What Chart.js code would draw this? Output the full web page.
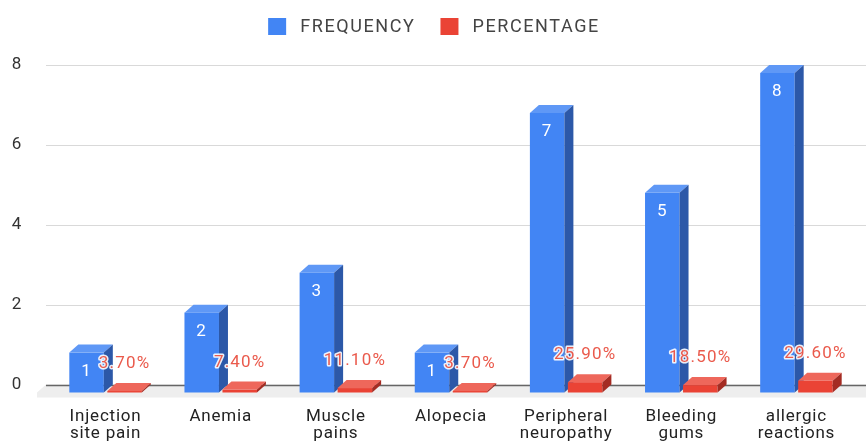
<!DOCTYPE html>
<html>
<head>
<meta charset="utf-8">
<script src="https://cdn.jsdelivr.net/npm/chart.js@4.4.1/dist/chart.umd.min.js"></script>
<style>
  html, body { margin: 0; padding: 0; background: #fff; }
  #wrap { width: 868px; height: 446px; }
</style>
</head>
<body>
<div id="wrap"><canvas id="sideEffects"></canvas></div>
<script>
// side effects: count of patients and share of total
const categories = [
  ['Injection', 'site pain'],
  ['Anemia'],
  ['Muscle', 'pains'],
  ['Alopecia'],
  ['Peripheral', 'neuropathy'],
  ['Bleeding', 'gums'],
  ['allergic', 'reactions']
];
const frequency = [1, 2, 3, 1, 7, 5, 8];
const percentage = [0.037, 0.074, 0.111, 0.037, 0.259, 0.185, 0.296];
const yTicks = [0, 2, 4, 6, 8];

const FONT = 'Roboto, "Liberation Sans", Arial, sans-serif';
const DX = 9, DY = 8; // depth of the 3d boxes

const colors = [
  { front: '#4285f4', top: '#5f98f6', side: '#2c58a8' },
  { front: '#ea4335', top: '#ee675b', side: '#a42c23' }
];

function box(ctx, l, r, t, b, c) {
  ctx.fillStyle = c.front;
  ctx.fillRect(l, t, r - l, b - t);
  ctx.fillStyle = c.top;
  ctx.beginPath();
  ctx.moveTo(l, t); ctx.lineTo(l + DX, t - DY); ctx.lineTo(r + DX, t - DY); ctx.lineTo(r, t);
  ctx.closePath(); ctx.fill();
  ctx.fillStyle = c.side;
  ctx.beginPath();
  ctx.moveTo(r, t); ctx.lineTo(r + DX, t - DY); ctx.lineTo(r + DX, b - DY); ctx.lineTo(r, b);
  ctx.closePath(); ctx.fill();
}

const bars3d = {
  id: 'bars3d',
  beforeDraw(chart) {
    // slightly wider text, applies to the axis labels too
    chart.ctx.letterSpacing = '0.8px';
  },
  beforeDatasetsDraw(chart) {
    const { ctx, chartArea: a, scales: { y } } = chart;
    const zero = y.getPixelForValue(0);
    const right = chart.width - 2;
    ctx.save();

    // floor
    ctx.fillStyle = '#eeeeee';
    ctx.beginPath();
    ctx.moveTo(a.left - 2, zero);
    ctx.lineTo(right, zero);
    ctx.lineTo(right, zero + DY + 5);
    ctx.lineTo(a.left - 11, zero + DY + 5);
    ctx.lineTo(a.left - 11, zero + DY);
    ctx.closePath();
    ctx.fill();

    // grid
    yTicks.forEach(v => {
      const py = Math.round(y.getPixelForValue(v)) + 0.5;
      ctx.strokeStyle = v === 0 ? '#666666' : '#d9d9d9';
      ctx.lineWidth = v === 0 ? 1.5 : 1;
      ctx.beginPath();
      ctx.moveTo(a.left - 2, py);
      ctx.lineTo(right, py);
      ctx.stroke();
    });

    // boxes, category by category so the red one sits over the blue side
    const metas = [chart.getDatasetMeta(0), chart.getDatasetMeta(1)];
    for (let i = 0; i < categories.length; i++) {
      metas.forEach((m, d) => {
        const el = m.data[i];
        const l = el.x - el.width / 2, r = el.x + el.width / 2;
        box(ctx, l, r, el.y + DY, el.base + DY, colors[d]);
      });
    }

    // value labels
    ctx.font = '17px ' + FONT;
    ctx.letterSpacing = '1.2px';
    ctx.textAlign = 'center';
    ctx.textBaseline = 'middle';
    metas[0].data.forEach((el, i) => {
      ctx.fillStyle = '#ffffff';
      ctx.fillText(String(frequency[i]), el.x, el.y + DY + 19);
    });
    metas[1].data.forEach((el, i) => {
      const t = (percentage[i] * 100).toFixed(2) + '%';
      ctx.lineJoin = 'round';
      ctx.lineWidth = 3;
      ctx.strokeStyle = 'rgba(255,255,255,0.9)';
      ctx.strokeText(t, el.x, el.y - 19);
      ctx.fillStyle = '#ea5a4c';
      ctx.fillText(t, el.x, el.y - 19);
    });

    ctx.restore();
    return false;
  },
  afterDraw(chart) {
    // legend row
    const ctx = chart.ctx;
    ctx.save();
    ctx.font = '18px ' + FONT;
    ctx.letterSpacing = '1.6px';
    const items = chart.data.datasets.map((ds, d) => ({ text: ds.label, color: colors[d].front, w: ctx.measureText(ds.label).width }));
    const bw = 18, gap = 14, spacing = 25;
    let total = items.reduce((s, it) => s + bw + gap + it.w, 0) + spacing * (items.length - 1);
    let x = (chart.width - total) / 2;
    ctx.textBaseline = 'middle';
    items.forEach(it => {
      ctx.fillStyle = it.color;
      ctx.fillRect(x, 18, bw, 17);
      ctx.fillStyle = '#444444';
      ctx.fillText(it.text, x + bw + gap, 27);
      x += bw + gap + it.w + spacing;
    });
    ctx.restore();
  }
};

new Chart(document.getElementById('sideEffects'), {
  type: 'bar',
  data: {
    labels: categories,
    datasets: [
      { label: 'FREQUENCY', data: frequency, backgroundColor: colors[0].front },
      { label: 'PERCENTAGE', data: percentage, backgroundColor: colors[1].front }
    ]
  },
  options: {
    responsive: true,
    maintainAspectRatio: false,
    animation: false,
    categoryPercentage: 0.66,
    barPercentage: 0.908,
    layout: { padding: { top: 65, right: 14, left: 0, bottom: 0 } },
    plugins: {
      legend: { display: false },
      tooltip: { enabled: false }
    },
    scales: {
      x: {
        afterFit(scale) { scale.height = 61.5; },
        grid: { display: false, drawTicks: false },
        border: { display: false },
        ticks: { color: '#222222', font: { family: FONT, size: 17, lineHeight: 1.0 }, padding: 24, maxRotation: 0, autoSkip: false }
      },
      y: {
        min: 0,
        max: 8,
        afterFit(scale) { scale.width = 48; },
        grid: { display: false, drawTicks: false },
        border: { display: false },
        ticks: { stepSize: 2, color: '#333333', font: { family: FONT, size: 17 }, padding: 26 }
      }
    }
  },
  plugins: [bars3d]
});
</script>
</body>
</html>
